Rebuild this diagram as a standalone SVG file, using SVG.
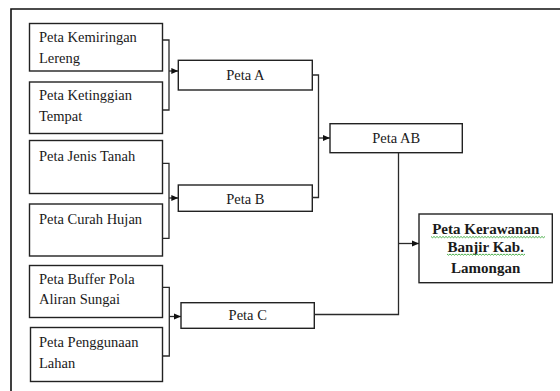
<svg xmlns="http://www.w3.org/2000/svg" width="560" height="391" viewBox="0 0 560 391">
<style>
.box{fill:#fff;stroke:#222;stroke-width:1.4}
.t{font-family:"Liberation Serif","Times New Roman",serif;font-size:14.5px;fill:#1a1a1a}
.c{text-anchor:middle}
.b{font-weight:bold;font-size:15px}
.con{fill:none;stroke:#2a2a2a;stroke-width:1.3}
.frame{fill:none;stroke:#111;stroke-width:1.6}
.sq{fill:none;stroke:#3aa83a;stroke-width:0.9}
</style>
<defs>
<marker id="ah" markerUnits="userSpaceOnUse" markerWidth="8" markerHeight="8" refX="7" refY="4" orient="auto">
<path d="M0,1 L7,4 L0,7 Z" fill="#111"/>
</marker>
</defs>
<path class="frame" d="M560,9 H11 V391"/>
<g id="n1"><rect class="box" x="29.5" y="23.5" width="133" height="47.5"/><text class="t" x="39" y="42">Peta Kemiringan</text><text class="t" x="39" y="63">Lereng</text></g>
<g id="n2"><rect class="box" x="29.5" y="82" width="133" height="51.5"/><text class="t" x="39" y="100">Peta Ketinggian</text><text class="t" x="39" y="121">Tempat</text></g>
<g id="n3"><rect class="box" x="29.5" y="140.5" width="133" height="53"/><text class="t" x="39" y="161">Peta Jenis Tanah</text></g>
<g id="n4"><rect class="box" x="29.5" y="204" width="133" height="52"/><text class="t" x="39" y="223.5">Peta Curah Hujan</text></g>
<g id="n5"><rect class="box" x="29.5" y="265.5" width="133" height="52"/><text class="t" x="39" y="283.5">Peta Buffer Pola</text><text class="t" x="39" y="304">Aliran Sungai</text></g>
<g id="n6"><rect class="box" x="30.5" y="327.5" width="132" height="54"/><text class="t" x="39" y="347">Peta Penggunaan</text><text class="t" x="39" y="367.5">Lahan</text></g>
<g id="pA"><rect class="box" x="178.3" y="60.3" width="134" height="29.7"/><text class="t c" x="245.3" y="79.5">Peta A</text></g>
<g id="pB"><rect class="box" x="178.3" y="185" width="134" height="26.3"/><text class="t c" x="245.3" y="203.5">Peta B</text></g>
<g id="pC"><rect class="box" x="181" y="302.7" width="133.3" height="25.6"/><text class="t c" x="247.7" y="320.3">Peta C</text></g>
<g id="pAB"><rect class="box" x="330" y="123.7" width="132.3" height="29"/><text class="t c" x="396.2" y="142.7">Peta AB</text></g>
<g id="final"><rect class="box" x="419" y="214" width="133.3" height="68.7"/>
<text class="t c b" x="485.7" y="234">Peta Kerawanan</text>
<text class="t c b" x="485.7" y="252">Banjir Kab.</text>
<text class="t c b" x="485.7" y="272.5">Lamongan</text>
<path class="sq" d="M431,236.5 l1.5,1.2 l1.5,-1.2 l1.5,1.2 l1.5,-1.2 l1.5,1.2 l1.5,-1.2 l1.5,1.2 l1.5,-1.2 l1.5,1.2 l1.5,-1.2 l1.5,1.2 l1.5,-1.2 l1.5,1.2 l1.5,-1.2 l1.5,1.2 l1.5,-1.2 l1.5,1.2 l1.5,-1.2 l1.5,1.2 l1.5,-1.2 l1.5,1.2 l1.5,-1.2 l1.5,1.2 l1.5,-1.2 l1.5,1.2 l1.5,-1.2 l1.5,1.2 l1.5,-1.2 l1.5,1.2 l1.5,-1.2 l1.5,1.2 l1.5,-1.2 l1.5,1.2 l1.5,-1.2 l1.5,1.2 l1.5,-1.2 l1.5,1.2 l1.5,-1.2 l1.5,1.2 l1.5,-1.2 l1.5,1.2 l1.5,-1.2 l1.5,1.2 l1.5,-1.2 l1.5,1.2 l1.5,-1.2 l1.5,1.2 l1.5,-1.2 l1.5,1.2 l1.5,-1.2 l1.5,1.2 l1.5,-1.2 l1.5,1.2 l1.5,-1.2 l1.5,1.2 l1.5,-1.2 l1.5,1.2 l1.5,-1.2 l1.5,1.2 l1.5,-1.2 l1.5,1.2 l1.5,-1.2 l1.5,1.2 l1.5,-1.2 l1.5,1.2 l1.5,-1.2 l1.5,1.2 l1.5,-1.2 l1.5,1.2 l1.5,-1.2 l1.5,1.2 l1.5,-1.2 l1.5,1.2 l1.5,-1.2 l1.5,1.2 l1.5,-1.2"/>
<path class="sq" d="M447,254 l1.5,1.2 l1.5,-1.2 l1.5,1.2 l1.5,-1.2 l1.5,1.2 l1.5,-1.2 l1.5,1.2 l1.5,-1.2 l1.5,1.2 l1.5,-1.2 l1.5,1.2 l1.5,-1.2 l1.5,1.2 l1.5,-1.2 l1.5,1.2 l1.5,-1.2 l1.5,1.2 l1.5,-1.2 l1.5,1.2 l1.5,-1.2 l1.5,1.2 l1.5,-1.2 l1.5,1.2 l1.5,-1.2 l1.5,1.2 l1.5,-1.2 l1.5,1.2 l1.5,-1.2 l1.5,1.2 l1.5,-1.2 l1.5,1.2 l1.5,-1.2 l1.5,1.2 l1.5,-1.2 l1.5,1.2 l1.5,-1.2 l1.5,1.2 l1.5,-1.2 l1.5,1.2 l1.5,-1.2 l1.5,1.2 l1.5,-1.2 l1.5,1.2 l1.5,-1.2 l1.5,1.2 l1.5,-1.2 l1.5,1.2 l1.5,-1.2 l1.5,1.2 l1.5,-1.2 l1.5,1.2 l1.5,-1.2"/>
</g>
<g id="connectors">
<path class="con" d="M162.7,40 H169 V110 H162.7"/>
<path class="con" d="M169,71 H178.3" marker-end="url(#ah)"/>
<path class="con" d="M162.7,163.3 H169 V238.3 H162.7"/>
<path class="con" d="M169,198 H178.3" marker-end="url(#ah)"/>
<path class="con" d="M162.7,287.3 H169.3 V356 H162.7"/>
<path class="con" d="M169.3,316.5 H181" marker-end="url(#ah)"/>
<path class="con" d="M312.3,75 H318.5 V197.5 H312.3"/>
<path class="con" d="M318.5,138 H330" marker-end="url(#ah)"/>
<path class="con" d="M398.5,152.7 V314.5 H314.3"/>
<path class="con" d="M398.5,243.5 H419" marker-end="url(#ah)"/>
</g>
</svg>
